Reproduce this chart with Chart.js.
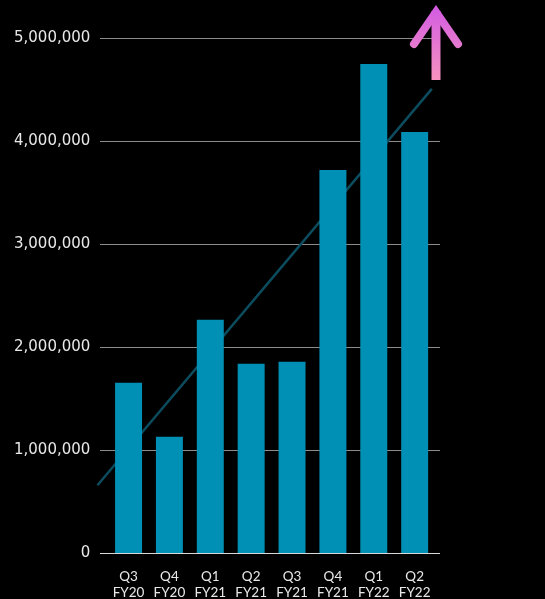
<!DOCTYPE html>
<html>
<head>
<meta charset="utf-8">
<script src="https://cdn.jsdelivr.net/npm/chart.js@4/dist/chart.umd.min.js"></script>
<style>
  html, body { margin: 0; padding: 0; background: #000; }
  #wrap { width: 545px; height: 599px; }
</style>
</head>
<body>
<div id="wrap"><canvas id="revenueChart"></canvas></div>
<script>
// quarter labels (two lines each)
const quarters = ['Q3', 'Q4', 'Q1', 'Q2', 'Q3', 'Q4', 'Q1', 'Q2'];
const fiscalYears = ['FY20', 'FY20', 'FY21', 'FY21', 'FY21', 'FY21', 'FY22', 'FY22'];
// bar values
const values = [1657000, 1134000, 2267000, 1841000, 1860000, 3720000, 4748000, 4089000];
// y tick values
const yTicks = [0, 1000000, 2000000, 3000000, 4000000, 5000000];
// how far the trend line runs, in category units
const trendRange = [-0.76, 7.42];

// least squares trend through the bars
const n = values.length;
const meanX = (n - 1) / 2;
const meanY = values.reduce((a, b) => a + b, 0) / n;
let sxy = 0, sxx = 0;
values.forEach((v, i) => {
    sxy += (i - meanX) * (v - meanY);
    sxx += (i - meanX) * (i - meanX);
});
const slope = sxy / sxx;
const trendPoints = trendRange.map(x => ({ x: x, y: meanY + slope * (x - meanX) }));

// pink arrow drawn above the last bar
const arrowPlugin = {
    id: 'upArrow',
    afterDraw(chart) {
        const ctx = chart.ctx;
        const area = chart.chartArea;
        const cx = area.right - 4;
        const tipY = area.top - 31;
        const baseY = area.top + 42;
        const grad = ctx.createLinearGradient(0, tipY, 0, baseY);
        grad.addColorStop(0, '#d35ce2');
        grad.addColorStop(1, '#f692bf');
        ctx.save();
        ctx.strokeStyle = grad;
        ctx.lineWidth = 9;
        ctx.lineCap = 'butt';
        ctx.beginPath();
        ctx.moveTo(cx, baseY);
        ctx.lineTo(cx, tipY + 4);
        ctx.stroke();
        ctx.lineCap = 'round';
        ctx.lineJoin = 'miter';
        ctx.lineWidth = 8;
        ctx.beginPath();
        ctx.moveTo(cx - 22, tipY + 37);
        ctx.lineTo(cx, tipY + 5);
        ctx.lineTo(cx + 22, tipY + 37);
        ctx.stroke();
        ctx.restore();
    }
};

const ctx = document.getElementById('revenueChart').getContext('2d');
const chart = new Chart(ctx, {
    data: {
        datasets: [{
            type: 'bar',
            data: values.map((v, i) => ({ x: i, y: v })),
            backgroundColor: '#0090b5',
            borderWidth: 0,
            barPercentage: 0.66,
            categoryPercentage: 1,
            order: 1
        }, {
            type: 'line',
            data: trendPoints,
            borderColor: '#0c4c5f',
            borderWidth: 2.5,
            pointRadius: 0,
            clip: false,
            order: 2
        }]
    },
    options: {
        responsive: true,
        maintainAspectRatio: false,
        animation: false,
        layout: { padding: { top: 38, right: 105, left: 4, bottom: -17 } },
        plugins: {
            legend: { display: false },
            tooltip: { enabled: false }
        },
        scales: {
            x: {
                type: 'linear',
                offset: false,
                min: -0.69,
                max: 7.62,
                grid: { display: false, drawTicks: false },
                border: { display: false },
                afterBuildTicks: axis => {
                    axis.ticks = quarters.map((q, i) => ({ value: i }));
                },
                ticks: {
                    color: '#e8e8e8',
                    font: { family: 'Lato', size: 13.5, lineHeight: 1.2 },
                    padding: 15,
                    maxRotation: 0,
                    autoSkip: false,
                    callback: value => [quarters[value], fiscalYears[value]]
                }
            },
            y: {
                min: 0,
                max: 5000000,
                afterBuildTicks: axis => {
                    axis.ticks = yTicks.map(v => ({ value: v }));
                },
                grid: {
                    color: ctx => ctx.tick && ctx.tick.value === 0 ? '#d8d8d8' : '#8c8c8c',
                    lineWidth: 1,
                    drawTicks: false
                },
                border: { display: false },
                ticks: {
                    color: '#e8e8e8',
                    font: { family: 'DejaVu Sans', size: 15 },
                    padding: 10,
                    callback: value => value.toLocaleString('en-US')
                }
            }
        }
    },
    plugins: [arrowPlugin]
});
</script>
</body>
</html>
